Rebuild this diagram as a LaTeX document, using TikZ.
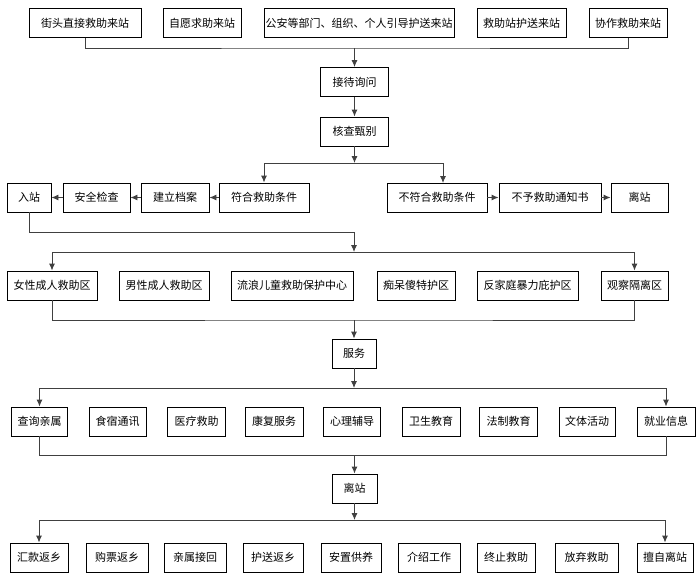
\documentclass[tikz,border=0pt]{standalone}
\usepackage{fontspec}
\setmainfont{Noto Sans CJK SC}
\usetikzlibrary{arrows.meta}

\tikzset{
  box/.style={draw, line width=0.9pt, minimum height=29pt, inner sep=1pt, font=\fontsize{11}{13}\selectfont},
  link/.style={draw=black!75, line width=0.9pt},
  arr/.style={link, -{Latex[length=7pt,width=6pt]}},
}

\begin{document}
\begin{tikzpicture}[x=1pt, y=-1pt]
  \useasboundingbox (0,0) rectangle (700,579);
  % sources
  \node[box, minimum width=112] (s1) at (85,23) {街头直接救助来站};
  \node[box, minimum width=78] (s2) at (202,23) {自愿求助来站};
  \node[box, minimum width=190] (s3) at (359,23) {公安等部门、组织、个人引导护送来站};
  \node[box, minimum width=89] (s4) at (521.5,23) {救助站护送来站};
  \node[box, minimum width=78] (s5) at (628,23) {协作救助来站};
  \node[box, minimum width=68] (rcv) at (354.5,82) {接待询问};
  \node[box, minimum width=68] (chk) at (354.5,131.5) {核查甄别};
  % check result
  \node[box, minimum width=44] (in) at (29,197.5) {入站};
  \node[box, minimum width=67] (safe) at (96.5,197.5) {安全检查};
  \node[box, minimum width=68] (file) at (175,197.5) {建立档案};
  \node[box, minimum width=90] (fit) at (264,197.5) {符合救助条件};
  \node[box, minimum width=100] (unfit) at (437,197.5) {不符合救助条件};
  \node[box, minimum width=102] (note) at (550,197.5) {不予救助通知书};
  \node[box, minimum width=57] (gone) at (639.5,197.5) {离站};
  % zones
  \node[box, minimum width=90] (z1) at (52,285.5) {女性成人救助区};
  \node[box, minimum width=90] (z2) at (164,285.5) {男性成人救助区};
  \node[box, minimum width=122] (z3) at (292,285.5) {流浪儿童救助保护中心};
  \node[box, minimum width=78] (z4) at (416,285.5) {痴呆傻特护区};
  \node[box, minimum width=101] (z5) at (527.5,285.5) {反家庭暴力庇护区};
  \node[box, minimum width=67] (z6) at (634.5,285.5) {观察隔离区};
  \node[box, minimum width=44] (svc) at (354,353.5) {服务};
  % services
  \node[box, minimum width=56] (v1) at (39.5,421.5) {查询亲属};
  \node[box, minimum width=57] (v2) at (117.5,421.5) {食宿通讯};
  \node[box, minimum width=58] (v3) at (196.5,421.5) {医疗救助};
  \node[box, minimum width=58] (v4) at (274,421.5) {康复服务};
  \node[box, minimum width=57] (v5) at (352,421.5) {心理辅导};
  \node[box, minimum width=58] (v6) at (431,421.5) {卫生教育};
  \node[box, minimum width=58] (v7) at (508.5,421.5) {法制教育};
  \node[box, minimum width=56] (v8) at (587,421.5) {文体活动};
  \node[box, minimum width=58] (v9) at (666,421.5) {就业信息};
  \node[box, minimum width=45] (out) at (354.5,488.5) {离站};
  % ways out
  \node[box, minimum width=58] (w1) at (39,557.5) {汇款返乡};
  \node[box, minimum width=62] (w2) at (117,557.5) {购票返乡};
  \node[box, minimum width=62] (w3) at (195,557.5) {亲属接回};
  \node[box, minimum width=60] (w4) at (273,557.5) {护送返乡};
  \node[box, minimum width=60] (w5) at (351,557.5) {安置供养};
  \node[box, minimum width=62] (w6) at (429,557.5) {介绍工作};
  \node[box, minimum width=58] (w7) at (506,557.5) {终止救助};
  \node[box, minimum width=63] (w8) at (586.5,557.5) {放弃救助};
  \node[box, minimum width=56] (w9) at (665,557.5) {擅自离站};

  \coordinate (j1) at (354.5,48);
  \coordinate (j2) at (354.5,163);
  \coordinate (j3a) at (354,232);
  \coordinate (j3) at (354,252);
  \coordinate (j4) at (354,320);
  \coordinate (j5) at (354,388);
  \coordinate (j6) at (354.5,455);
  \coordinate (j7) at (354.5,520);
  \coordinate (uf) at (443,183);

  \draw[link] (s1.south) |- (j1) -| (s5.south);
  \draw[arr] (j1) -- (rcv.north);
  \draw[arr] (rcv.south) -- (chk.north);
  \draw[arr] (chk.south) -- (j2);
  \draw[arr] (j2) -| (fit.north);
  \draw[arr] (j2) -| (uf);
  \draw[arr] (fit) -- (file);
  \draw[arr] (file) -- (safe);
  \draw[arr] (safe) -- (in);
  \draw[arr] (unfit) -- (note);
  \draw[arr] (note) -- (gone);
  \draw[link] (in.south) |- (j3a);
  \draw[arr] (j3a) -- (j3);
  \draw[arr] (j3) -| (z1.north);
  \draw[arr] (j3) -| (z6.north);
  \draw[link] (z1.south) |- (j4) -| (z6.south);
  \draw[arr] (j4) -- (svc.north);
  \draw[arr] (svc.south) -- (j5);
  \draw[arr] (j5) -| (v1.north);
  \draw[arr] (j5) -| (v9.north);
  \draw[link] (v1.south) |- (j6) -| (v9.south);
  \draw[arr] (j6) -- (out.north);
  \draw[arr] (out.south) -- (j7);
  \draw[arr] (j7) -| (w1.north);
  \draw[arr] (j7) -| (w9.north);
\end{tikzpicture}
\end{document}
